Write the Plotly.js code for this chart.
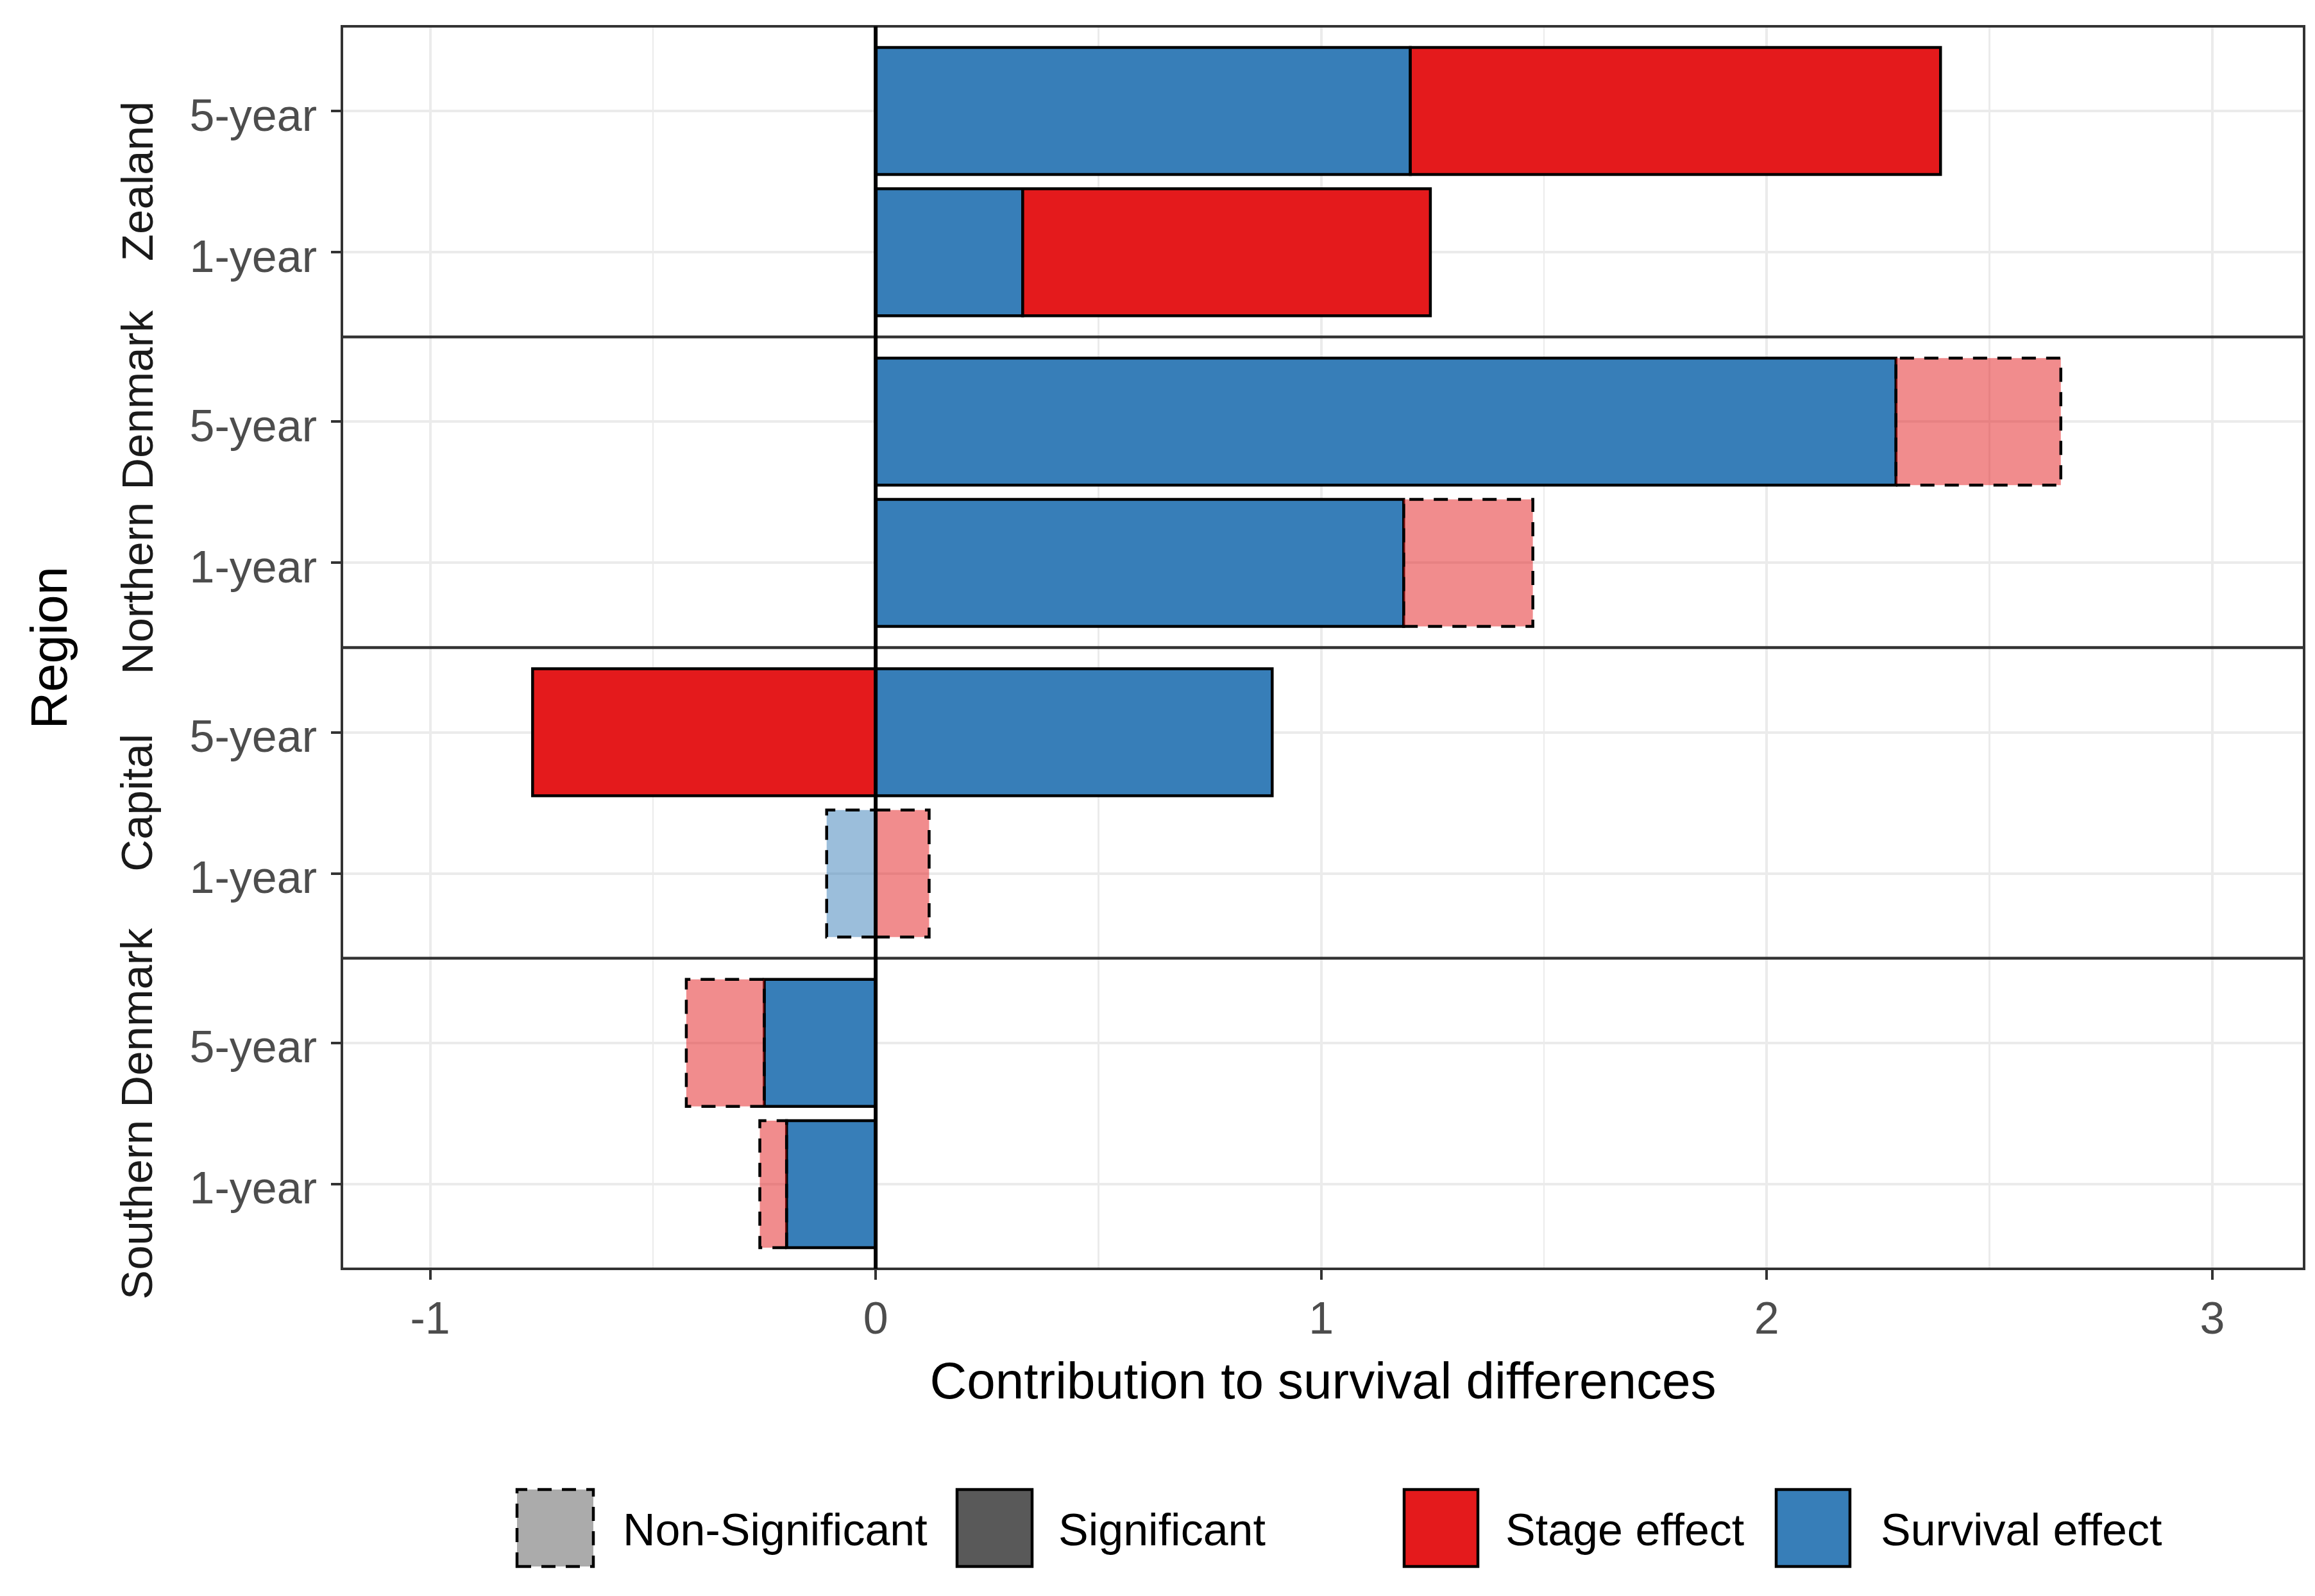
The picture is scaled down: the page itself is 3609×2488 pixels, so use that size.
<!DOCTYPE html>
<html><head><meta charset="utf-8">
<script src="https://cdn.plot.ly/plotly-3.0.1.min.js"></script>
<style>html,body{margin:0;padding:0;background:#fff;} #chart{width:3609px;height:2488px;}</style>
</head><body><div id="chart"></div>
<script>
// ---- data ----
const regions = ["Zealand", "Northern Denmark", "Capital", "Southern Denmark"];
const horizons = ["1-year", "5-year"];
// survival effect, [1-year, 5-year]
const survivalZealand  = [0.33, 1.20];
const survivalNorthern = [1.185, 2.29];
const survivalCapital  = [-0.11, 0.89];
const survivalSouthern = [-0.20, -0.25];
// stage effect, [1-year, 5-year]
const stageZealand  = [0.915, 1.19];
const stageNorthern = [0.29, 0.37];
const stageCapital  = [0.12, -0.77];
const stageSouthern = [-0.06, -0.175];
// significance flags, [1-year, 5-year]
const survivalSigZealand  = [true, true];
const survivalSigNorthern = [true, true];
const survivalSigCapital  = [false, true];
const survivalSigSouthern = [true, true];
const stageSigZealand  = [true, true];
const stageSigNorthern = [false, false];
const stageSigCapital  = [false, true];
const stageSigSouthern = [false, false];
const xTickVals = [-1, 0, 1, 2, 3];
const xTickText = ["-1", "0", "1", "2", "3"];
const legendLabels = ["Non-Significant", "Significant", "Stage effect", "Survival effect"];
const xTitle = "Contribution to survival differences";
const yTitle = "Region";

// ---- layout helpers ----
const W = 3609, H = 2488, L = 533, R = 17, T = 41, B = 510;
const plotW = W - L - R, plotH = H - T - B;
const px2x = p => (p - L) / plotW;
const py2y = p => (H - B - p) / plotH;
const FONT = "Liberation Sans, Arial, Helvetica, sans-serif";
const BLUE = "#377EB8", RED = "#E41A1C";
const BLUE_NS = "rgba(55,126,184,0.5)", RED_NS = "rgba(228,26,28,0.5)";
const LW = 4.5;

const survival = [survivalZealand, survivalNorthern, survivalCapital, survivalSouthern];
const stage = [stageZealand, stageNorthern, stageCapital, stageSouthern];
const survivalSig = [survivalSigZealand, survivalSigNorthern, survivalSigCapital, survivalSigSouthern];
const stageSig = [stageSigZealand, stageSigNorthern, stageSigCapital, stageSigSouthern];

const traces = [], shapes = [], annotations = [];
const layout = {
  width: W, height: H,
  margin: {l: L, r: R, t: T, b: B},
  paper_bgcolor: "#fff", plot_bgcolor: "#fff",
  barmode: "relative", bargap: 0.1,
  showlegend: false,
  font: {family: FONT},
  xaxis: {
    range: [-1.198, 3.206], anchor: "y4",
    tickmode: "array", tickvals: xTickVals, ticktext: xTickText,
    ticks: "outside", ticklen: 16, tickwidth: 4, tickcolor: "#333333",
    tickfont: {size: 70, color: "#4D4D4D", family: FONT},
    showgrid: true, gridcolor: "#EBEBEB", gridwidth: 4,
    minor: {tickmode: "linear", tick0: 0.5, dtick: 1, showgrid: true, gridcolor: "#EBEBEB", gridwidth: 2.5, ticks: ""},
    zeroline: false, showline: false, fixedrange: true,
    title: {text: xTitle, font: {size: 80, color: "#000", family: FONT}, standoff: 30}
  }
};

regions.forEach((reg, i) => {
  const yid = i === 0 ? "y" : "y" + (i + 1);
  const yname = i === 0 ? "yaxis" : "yaxis" + (i + 1);
  const d0 = (3 - i) / 4, d1 = (4 - i) / 4;
  layout[yname] = {
    domain: [d0, d1], anchor: "x",
    type: "category", categoryorder: "array", categoryarray: horizons,
    range: [-0.6, 1.6],
    ticks: "outside", ticklen: 16, tickwidth: 4, tickcolor: "#333333",
    ticklabelstandoff: 8, ticklabelshift: 6,
    tickfont: {size: 70, color: "#4D4D4D", family: FONT},
    showgrid: true, gridcolor: "#EBEBEB", gridwidth: 4,
    zeroline: false, showline: false, fixedrange: true
  };
  traces.push({
    type: "bar", orientation: "h", name: "Survival effect",
    y: horizons, x: survival[i], xaxis: "x", yaxis: yid, width: 0.9,
    marker: {
      color: survivalSig[i].map(s => s ? BLUE : BLUE_NS),
      line: {color: "#000", width: survivalSig[i].map(s => s ? LW : 0)}
    },
    hoverinfo: "skip"
  });
  traces.push({
    type: "bar", orientation: "h", name: "Stage effect",
    y: horizons, x: stage[i], xaxis: "x", yaxis: yid, width: 0.9,
    marker: {
      color: stageSig[i].map(s => s ? RED : RED_NS),
      line: {color: "#000", width: stageSig[i].map(s => s ? LW : 0)}
    },
    hoverinfo: "skip"
  });
  // dashed outlines for non-significant segments (same stacking as barmode relative)
  horizons.forEach((h, k) => {
    const s = survival[i][k], t = stage[i][k];
    const segS = [0, s];
    const segT = (s * t > 0) ? [s, s + t] : [0, t];
    if (!survivalSig[i][k]) shapes.push({type: "rect", xref: "x", yref: yid, x0: segS[0], x1: segS[1], y0: k - 0.45, y1: k + 0.45, line: {color: "#000", width: LW, dash: "22px,16px"}, layer: "above"});
    if (!stageSig[i][k]) shapes.push({type: "rect", xref: "x", yref: yid, x0: segT[0], x1: segT[1], y0: k - 0.45, y1: k + 0.45, line: {color: "#000", width: LW, dash: "22px,16px"}, layer: "above"});
  });
  // panel border
  shapes.push({type: "rect", xref: "paper", yref: "paper", x0: 0, x1: 1, y0: d0, y1: d1, line: {color: "#333333", width: 4}, layer: "above"});
  // facet strip label
  annotations.push({text: reg, xref: "paper", yref: "paper", x: px2x(214), y: (d0 + d1) / 2, xanchor: "center", yanchor: "middle", textangle: -90, showarrow: false, font: {size: 69, color: "#1A1A1A", family: FONT}});
});

// vertical reference line at zero
shapes.push({type: "line", xref: "x", yref: "paper", x0: 0, x1: 0, y0: 0, y1: 1, line: {color: "#000", width: 6}, layer: "above"});

// y title
annotations.push({text: yTitle, xref: "paper", yref: "paper", x: px2x(76), y: 0.5, xanchor: "center", yanchor: "middle", textangle: -90, showarrow: false, font: {size: 80, color: "#000", family: FONT}});

// custom legend (keys + labels)
const keyX = [[806, 925], [1492, 1609], [2189, 2304], [2769, 2884]];
const keyFill = ["#ABABAB", "#595959", RED, BLUE];
const keyDash = ["22px,16px", "solid", "solid", "solid"];
const labelX = [969, 1648, 2345, 2930];
legendLabels.forEach((lab, j) => {
  shapes.push({type: "rect", xref: "paper", yref: "paper", x0: px2x(keyX[j][0]), x1: px2x(keyX[j][1]), y0: py2y(2442), y1: py2y(2322), fillcolor: keyFill[j], line: {color: "#000", width: LW, dash: keyDash[j]}});
  annotations.push({text: lab, xref: "paper", yref: "paper", x: px2x(labelX[j]), y: py2y(2385), xanchor: "left", yanchor: "middle", showarrow: false, font: {size: 70, color: "#000", family: FONT}});
});

layout.shapes = shapes;
layout.annotations = annotations;
Plotly.newPlot("chart", traces, layout, {displayModeBar: false, staticPlot: true});
</script></body></html>
